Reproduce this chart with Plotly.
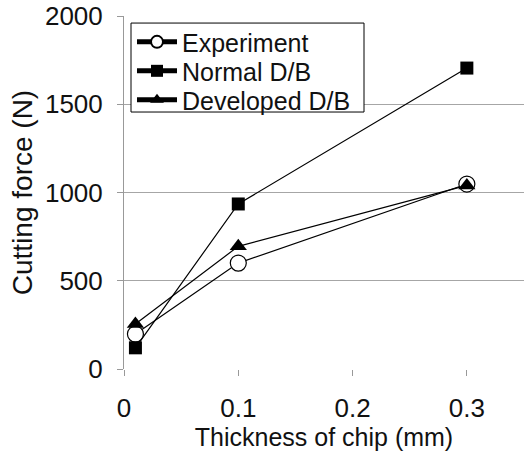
import plotly.graph_objects as go

thickness = [0.01, 0.1, 0.3]
experiment = [198, 600, 1048]
normal_db = [120, 935, 1705]
developed_db = [255, 695, 1040]

series_names = ["Experiment", "Normal D/B", "Developed D/B"]

tick_x = [0, 0.1, 0.2, 0.3]
tick_x_text = ["0", "0.1", "0.2", "0.3"]
tick_y = [0, 500, 1000, 1500, 2000]

FONT = "Liberation Sans, Arial, sans-serif"
LINE = dict(color="black", width=1.2)

fig = go.Figure()
fig.add_trace(go.Scatter(
    x=thickness, y=experiment, name=series_names[0], mode="lines+markers",
    line=LINE, legend="legend",
    marker=dict(symbol="circle", size=16, color="white", line=dict(color="black", width=1.2)),
))
fig.add_trace(go.Scatter(
    x=thickness, y=normal_db, name=series_names[1], mode="lines+markers",
    line=LINE, legend="legend2",
    marker=dict(symbol="square", size=13, color="black", line=dict(color="black", width=0)),
))
fig.add_trace(go.Scatter(
    x=thickness, y=developed_db, name=series_names[2], mode="lines+markers",
    line=LINE, legend="legend3",
    marker=dict(symbol="triangle-up", size=15, color="black", line=dict(color="black", width=0)),
))

leg_common = dict(
    xanchor="left", yanchor="middle", borderwidth=0,
    bgcolor="rgba(0,0,0,0)", font=dict(size=25, color="#111111"),
    itemwidth=40, itemsizing="constant",
)
leg_x = 0.02

fig.update_layout(
    width=524, height=457,
    margin=dict(l=124, r=0, t=16, b=88),
    paper_bgcolor="white", plot_bgcolor="white",
    font=dict(family=FONT, size=25, color="#111111"),
    showlegend=True,
    legend=dict(x=leg_x, y=0.926, **leg_common),
    legend2=dict(x=leg_x, y=0.844, **leg_common),
    legend3=dict(x=leg_x, y=0.762, **leg_common),
    shapes=[dict(
        type="rect", xref="paper", yref="paper",
        x0=0.0175, x1=0.6, y0=0.728, y1=0.980,
        line=dict(color="black", width=1), fillcolor="white", layer="above",
    )],
    xaxis=dict(
        range=[0, 0.35], tickvals=tick_x, ticktext=tick_x_text,
        showgrid=False, zeroline=False,
        showline=False, ticks="outside", ticklen=6, tickcolor="#999999",
        ticklabelstandoff=10,
        title=dict(text="Thickness of chip (mm)", standoff=6, font=dict(size=25)),
        tickfont=dict(size=26),
    ),
    yaxis=dict(
        range=[0, 2000], tickvals=tick_y,
        showgrid=True, gridcolor="#a6a6a6", gridwidth=1,
        zeroline=False,
        showline=True, linecolor="#999999", linewidth=1,
        ticks="outside", ticklen=6, tickcolor="#999999",
        ticklabelstandoff=9,
        title=dict(text="Cutting force (N)", standoff=4, font=dict(size=28)),
        tickfont=dict(size=26),
    ),
)

fig.write_html("out.html")
